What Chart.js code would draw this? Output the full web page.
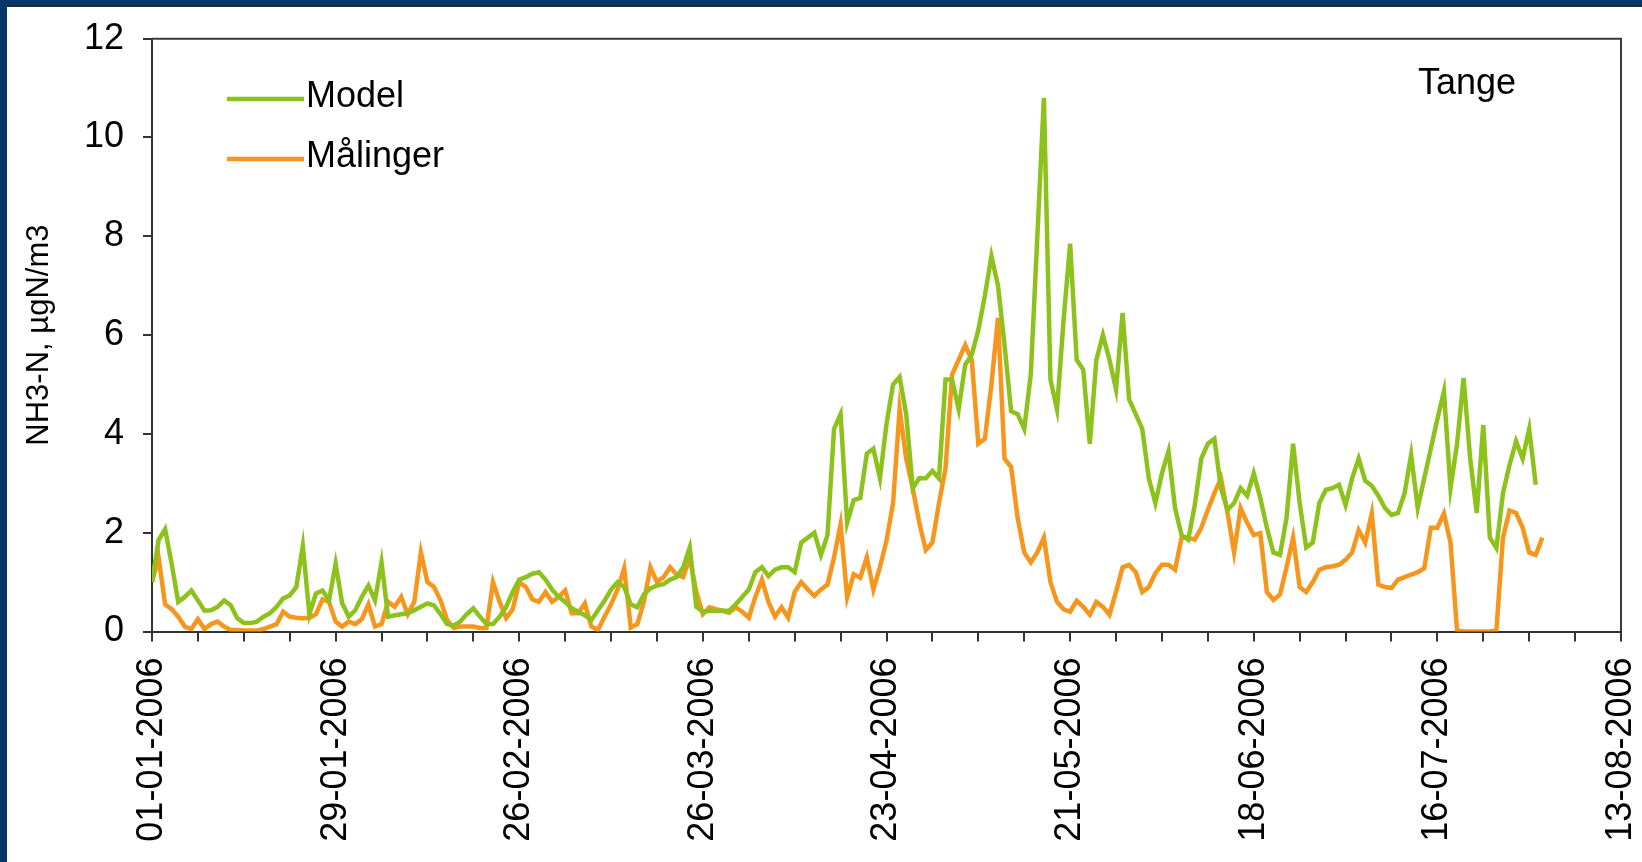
<!DOCTYPE html>
<html>
<head>
<meta charset="utf-8">
<script src="https://cdn.jsdelivr.net/npm/chart.js@4.4.1/dist/chart.umd.min.js"></script>
<style>
  html, body { margin: 0; padding: 0; background: #033669; overflow: hidden; }
  #frame {
    position: absolute; left: 7px; top: 5px; right: 0; bottom: 0;
    background: #fff; border-top: 2px solid #1d2a38;
  }
  #chart { position: absolute; left: 0; top: 0; }
</style>
</head>
<body>
<div id="frame"></div>
<canvas id="chart" width="1642" height="862"></canvas>
<script>
// Daily values from 01-01-2006, one per day
const modelValues = [
  1.0, 1.85, 2.07, 1.37, 0.6, 0.7, 0.83, 0.63, 0.42, 0.43,
  0.5, 0.63, 0.53, 0.27, 0.17, 0.17, 0.2, 0.3, 0.37, 0.5,
  0.67, 0.73, 0.9, 1.73, 0.35, 0.77, 0.83, 0.63, 1.37, 0.57,
  0.3, 0.43, 0.7, 0.93, 0.63, 1.4, 0.3, 0.33, 0.35, 0.37,
  0.43, 0.5, 0.57, 0.53, 0.35, 0.15, 0.12, 0.2, 0.35, 0.47,
  0.3, 0.15, 0.15, 0.3, 0.5, 0.8, 1.05, 1.1, 1.17, 1.2,
  1.05, 0.85, 0.7, 0.6, 0.47, 0.4, 0.33, 0.23, 0.43, 0.62,
  0.85, 1.0, 0.9, 0.55, 0.49, 0.75, 0.87, 0.93, 0.96, 1.05,
  1.1, 1.3, 1.7, 0.5, 0.4, 0.42, 0.42, 0.42, 0.42, 0.55,
  0.7, 0.85, 1.2, 1.3, 1.12, 1.25, 1.3, 1.3, 1.2, 1.8,
  1.9, 2.0, 1.55, 1.95, 4.1, 4.4, 2.2, 2.66, 2.7, 3.6,
  3.7, 3.1, 4.2, 5.0, 5.15, 4.4, 2.9, 3.1, 3.1, 3.25,
  3.1, 5.1, 5.1, 4.5, 5.4, 5.6, 6.1, 6.8, 7.6, 7.0,
  5.8, 4.46, 4.4, 4.1, 5.2, 8.0, 10.8, 5.1, 4.5, 6.3,
  7.85, 5.5, 5.3, 3.8, 5.5, 6.0, 5.5, 4.9, 6.45, 4.7,
  4.4, 4.1, 3.1, 2.6, 3.2, 3.65, 2.5, 1.95, 1.86, 2.55,
  3.5, 3.8, 3.9, 2.9, 2.46, 2.6, 2.9, 2.75, 3.2, 2.7,
  2.1, 1.6, 1.55, 2.3, 3.8, 2.6, 1.7, 1.8, 2.6, 2.87,
  2.9, 2.97, 2.56, 3.1, 3.5, 3.05, 2.95, 2.75, 2.5, 2.36,
  2.4, 2.8, 3.58, 2.5, 3.1, 3.7, 4.3, 4.86, 2.9, 3.8,
  5.13, 3.5, 2.4, 4.18, 1.9, 1.69, 2.8, 3.37, 3.85, 3.5,
  4.1, 2.97
];

const malingerValues = [
  1.0, 1.5, 0.55, 0.45, 0.3, 0.1, 0.05, 0.25, 0.05, 0.15,
  0.2, 0.1, 0.03, 0.03, 0.02, 0.02, 0.02, 0.05, 0.1, 0.15,
  0.4, 0.3, 0.28, 0.27, 0.28, 0.35, 0.65, 0.6, 0.2, 0.1,
  0.2, 0.15, 0.25, 0.55, 0.1, 0.15, 0.6, 0.5, 0.7, 0.35,
  0.6, 1.6, 1.0, 0.9, 0.63, 0.23, 0.07, 0.1, 0.1, 0.1,
  0.07, 0.07, 1.0, 0.6, 0.27, 0.45, 1.0, 0.9, 0.65, 0.6,
  0.8, 0.6, 0.7, 0.83, 0.37, 0.37, 0.57, 0.1, 0.03, 0.3,
  0.55, 0.85, 1.28, 0.08, 0.15, 0.6, 1.3, 1.0, 1.1, 1.3,
  1.15, 1.1, 1.5, 0.8, 0.35, 0.49, 0.45, 0.42, 0.38, 0.49,
  0.4, 0.28, 0.7, 1.05, 0.6, 0.3, 0.49, 0.28, 0.8, 1.0,
  0.85, 0.72, 0.85, 0.95, 1.5, 2.17, 0.69, 1.16, 1.09, 1.5,
  0.85, 1.3, 1.84, 2.6, 4.5, 3.5, 2.9, 2.2, 1.65, 1.8,
  2.6, 3.3, 5.2, 5.5, 5.8, 5.5, 3.8, 3.9, 5.0, 6.35,
  3.5, 3.33, 2.3, 1.6, 1.4, 1.6, 1.9, 1.0, 0.6, 0.45,
  0.4, 0.62, 0.5, 0.34, 0.6, 0.5, 0.34, 0.8, 1.3, 1.35,
  1.2, 0.8, 0.9, 1.18, 1.35, 1.35, 1.25, 1.9, 1.9, 1.86,
  2.1, 2.46, 2.8, 3.1, 2.4, 1.6, 2.5, 2.2, 1.95, 1.99,
  0.8, 0.64, 0.75, 1.3, 1.9, 0.9, 0.8, 1.0, 1.25, 1.3,
  1.32, 1.35, 1.45, 1.6, 2.05, 1.8, 2.39, 0.95, 0.9, 0.88,
  1.05, 1.1, 1.15, 1.2, 1.28, 2.1, 2.1, 2.39, 1.8, 0.02,
  0, 0, 0, 0, 0, 0.02, 1.9, 2.45, 2.4, 2.1,
  1.6, 1.55, 1.9
];

const seriesNames = ['Model', 'Målinger'];
const dateLabels = ['01-01-2006', '29-01-2006', '26-02-2006', '26-03-2006', '23-04-2006',
                    '21-05-2006', '18-06-2006', '16-07-2006', '13-08-2006'];
const yTicks = [0, 2, 4, 6, 8, 10, 12];
const yTitle = 'NH3-N, µgN/m3';
const stationName = 'Tange';

const FONT = '"Liberation Sans", Arial, sans-serif';
const GREEN = '#8dc21c';
const ORANGE = '#f7961c';

// one tick per week, labelled every fourth week
const weekTicks = [];
for (let d = 0; d <= (dateLabels.length - 1) * 28; d += 7) weekTicks.push(d);

// Legend drawn inside the plot, plus the station name
const insideText = {
    id: 'insideText',
    afterDraw(chart) {
        const ctx = chart.ctx;
        const area = chart.chartArea;
        ctx.save();
        // plot frame (top and right)
        ctx.strokeStyle = '#3a3a3a';
        ctx.lineWidth = 2;
        ctx.beginPath();
        ctx.moveTo(area.left, area.top);
        ctx.lineTo(area.right, area.top);
        ctx.lineTo(area.right, area.bottom);
        ctx.stroke();

        ctx.font = '36px ' + FONT;
        ctx.fillStyle = '#000';
        ctx.textBaseline = 'middle';
        chart.data.datasets.forEach((ds, i) => {
            const y = 97 + i * 60;
            ctx.strokeStyle = ds.borderColor;
            ctx.lineWidth = 4.5;
            ctx.beginPath();
            ctx.moveTo(227, y + 2);
            ctx.lineTo(304, y + 2);
            ctx.stroke();
            ctx.textAlign = 'left';
            ctx.fillText(ds.label, 306, y);
        });
        ctx.textAlign = 'center';
        ctx.fillText(stationName, 1467, 84);
        ctx.restore();
    }
};

const ctx = document.getElementById('chart').getContext('2d');
new Chart(ctx, {
    type: 'line',
    data: {
        datasets: [
            {
                label: seriesNames[0],
                data: modelValues.map((v, i) => ({ x: i, y: v })),
                borderColor: GREEN,
                borderWidth: 4.5,
                pointRadius: 0,
                tension: 0
            },
            {
                label: seriesNames[1],
                data: malingerValues.map((v, i) => ({ x: i, y: v })),
                borderColor: ORANGE,
                borderWidth: 4.5,
                pointRadius: 0,
                tension: 0
            }
        ]
    },
    options: {
        responsive: false,
        animation: false,
        events: [],
        layout: { padding: { top: 38.7, right: 21, bottom: 0, left: 0 } },
        plugins: {
            legend: { display: false },
            tooltip: { enabled: false }
        },
        scales: {
            x: {
                type: 'linear',
                min: 0,
                max: weekTicks[weekTicks.length - 1],
                afterBuildTicks: (scale) => {
                    scale.ticks = weekTicks.map(v => ({ value: v }));
                },
                afterFit: (scale) => {
                    scale.height = 230.5;
                    scale.paddingLeft = 0;
                    scale.paddingRight = 0;
                },
                grid: { drawOnChartArea: false, drawTicks: true, tickLength: 10, color: '#333', lineWidth: 2 },
                border: { display: true, color: '#333', width: 2 },
                ticks: {
                    autoSkip: false,
                    minRotation: 90,
                    maxRotation: 90,
                    padding: 16,
                    color: '#000',
                    font: { family: FONT, size: 36 },
                    callback: (v) => (v % 28 === 0 ? dateLabels[v / 28] : '')
                }
            },
            y: {
                min: 0,
                max: 12,
                afterBuildTicks: (scale) => {
                    scale.ticks = yTicks.map(v => ({ value: v }));
                },
                afterFit: (scale) => {
                    scale.width = 152;
                    scale.paddingTop = 0;
                    scale.paddingBottom = 0;
                },
                grid: { drawOnChartArea: false, drawTicks: true, tickLength: 9, color: '#333', lineWidth: 2 },
                border: { display: true, color: '#333', width: 2 },
                ticks: {
                    padding: 19,
                    color: '#000',
                    font: { family: FONT, size: 36 }
                },
                title: {
                    display: true,
                    text: yTitle,
                    color: '#000',
                    font: { family: FONT, size: 31 },
                    padding: { top: 21, bottom: 0 }
                }
            }
        }
    },
    plugins: [insideText]
});
</script>
</body>
</html>
